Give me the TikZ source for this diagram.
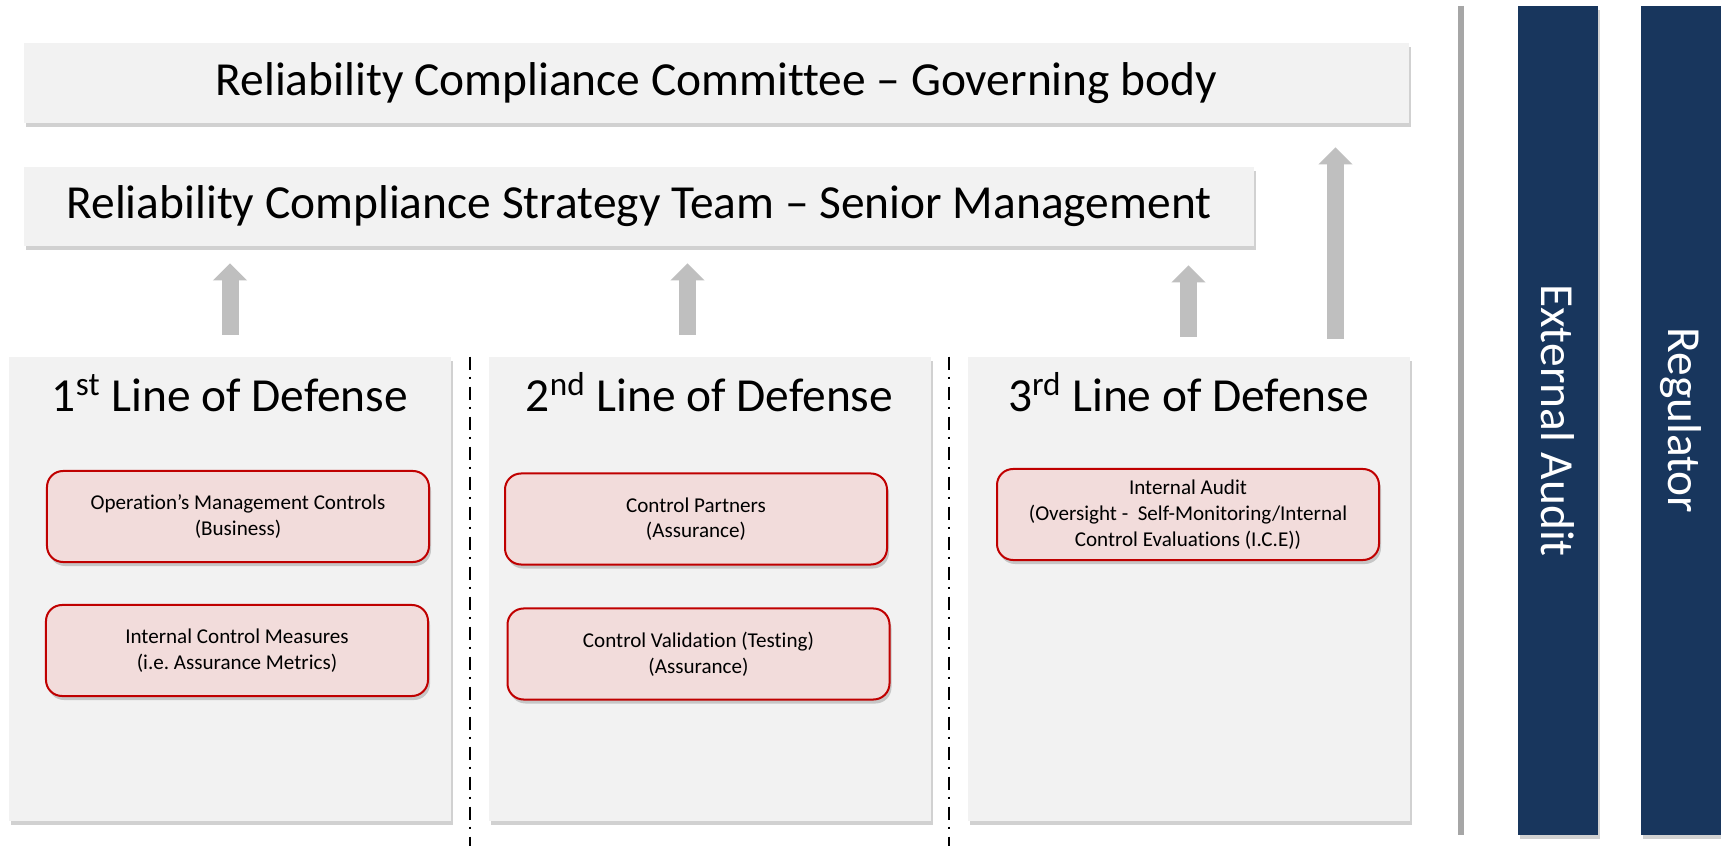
\documentclass[tikz,border=0pt]{standalone}
\usepackage{fontspec}
\setmainfont{Carlito}[Ligatures={TeX,NoCommon}]
\usepackage{xcolor}
\usetikzlibrary{arrows.meta, calc, shadows}
\frenchspacing

\definecolor{panelgray}{HTML}{F2F2F2}
\definecolor{boxpink}{HTML}{F2DCDB}
\definecolor{boxred}{HTML}{C00000}
\definecolor{arrowgray}{HTML}{BFBFBF}
\definecolor{rulegray}{HTML}{A6A6A6}
\definecolor{navy}{HTML}{18365D}

\begin{document}
\begin{tikzpicture}[x=0.2mm, y=-0.2mm,
    softshadow/.style={drop shadow={shadow xshift=0.4mm, shadow yshift=-0.8mm, fill=black, opacity=0.18}},
    bar/.style={fill=panelgray, softshadow, inner sep=0pt},
    panel/.style={fill=panelgray, softshadow, minimum width=88.4mm, minimum height=92.8mm, inner sep=0pt},
    ctrlbox/.style={draw=boxred, line width=0.4mm, fill=boxpink, rounded corners=3.2mm, softshadow,
        minimum width=76.4mm, minimum height=18.2mm, align=center, font=\fontsize{12}{14.6}\selectfont},
    bigtext/.style={font=\fontsize{27}{33}\selectfont},
    uparrow/.style={arrowgray, line width=3.4mm, -{Triangle[length=3.4mm, width=6.6mm]}},
    divider/.style={black, line width=0.4mm, dash pattern=on 2.6mm off 1.4mm on 0.5mm off 1.5mm},
    outer/.style={fill=navy, softshadow, minimum width=16mm, minimum height=165.8mm, inner sep=0pt}
  ]
    % Page
    \path[use as bounding box, fill=white] (0,0) rectangle (1721,846);

    % Governing levels
    \node[bar, bigtext, minimum width=277mm, minimum height=16mm] (committee) at (716.5,83)
        {Reliability Compliance Committee -- Governing body};
    \node[bar, bigtext, minimum width=246mm, minimum height=15.8mm] (strategy) at (639,206.5)
        {Reliability Compliance Strategy Team -- Senior Management};

    % Lines of defense
    \node[panel] (line1) at (230,589) {};
    \node[panel] (line2) at (709.5,589) {};
    \node[panel] (line3) at (1188.5,589) {};

    \node[bigtext, anchor=base] (title1) at ($(line1.north)+(0,55)$) {1\textsuperscript{st} Line of Defense};
    \node[bigtext, anchor=base] (title2) at ($(line2.north)+(0,55)$) {2\textsuperscript{nd} Line of Defense};
    \node[bigtext, anchor=base] (title3) at ($(line3.north)+(0,55)$) {3\textsuperscript{rd} Line of Defense};

    % Controls
    \node[ctrlbox] (opctrl) at (238,516.5) {Operation's Management Controls\\(Business)};
    \node[ctrlbox] (icm) at (237,650.5) {Internal Control Measures\\(i.e. Assurance Metrics)};
    \node[ctrlbox] (partners) at (696,519) {Control Partners\\(Assurance)};
    \node[ctrlbox] (validation) at (698.5,654) {Control Validation (Testing)\\(Assurance)};
    \node[ctrlbox] (audit) at (1188,514.5) {Internal Audit\\(Oversight - \ Self-Monitoring/Internal\\Control Evaluations (I.C.E))};

    % Dividers between the lines
    \draw[divider] ($(line1.north east)!0.5!(line2.north west)$) -- ++(0,489);
    \draw[divider] ($(line2.north east)!0.5!(line3.north west)$) -- ++(0,489);

    % Reporting arrows
    \draw[uparrow] ($(line1.north)+(0,-22)$) -- ($(line1.north |- strategy.south)+(0,17)$);
    \draw[uparrow] ($(line2.north)+(-22,-22)$) -- ($(line2.north |- strategy.south)+(-22,17)$);
    \draw[uparrow] ($(line3.north)+(0,-20)$) -- ($(line3.north |- strategy.south)+(0,19)$);
    \draw[uparrow] ($(line3.north)+(147,-18)$) -- ($(line3.north |- committee.south)+(147,24)$);

    % External bodies
    \draw[rulegray, line width=1.2mm] (1461,6) -- (1461,835);
    \node[outer] (extaudit) at (1558,420.5) {};
    \node[outer] (regulator) at (1681,420.5) {};
    \node[bigtext, white, rotate=-90] (extaudit-text) at (extaudit) {External Audit};
    \node[bigtext, white, rotate=-90] (regulator-text) at (regulator) {Regulator};
\end{tikzpicture}
\end{document}
